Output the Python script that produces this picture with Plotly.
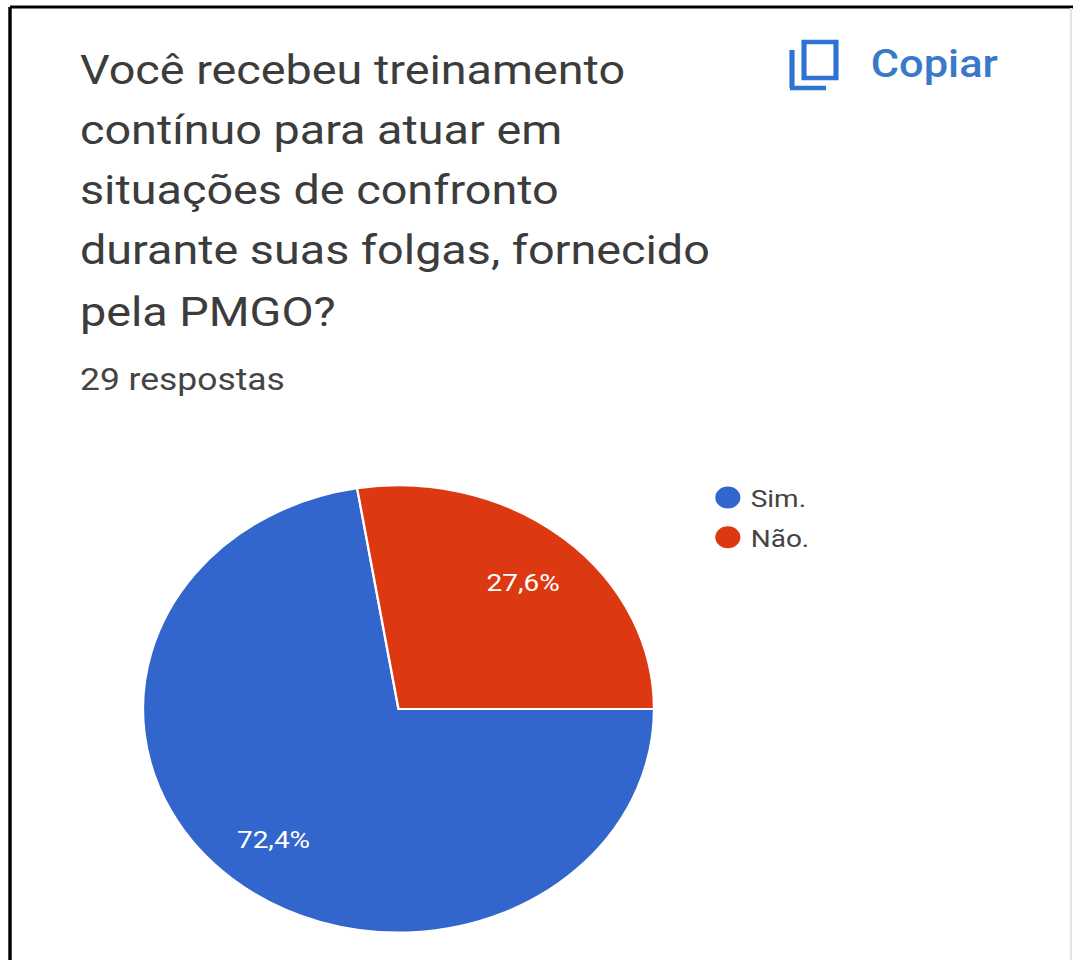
import plotly.graph_objects as go

W_PAGE, H_PAGE = 1073, 960
STRETCH = 1.1427
W_FIG = W_PAGE / STRETCH

categories = ["Sim.", "Não."]
responses = [21, 8]
colors = ["#3366CC", "#DC3912"]
title_lines = [
    "Você recebeu treinamento",
    "contínuo para atuar em",
    "situações de confronto",
    "durante suas folgas, fornecido",
    "pela PMGO?",
]
title_y = [70, 130, 190, 250, 312]
subtitle = "29 respostas"
copy_label = "Copiar"


def px(x):
    return x / W_PAGE


def py(y):
    return 1 - y / H_PAGE


fig = go.Figure(
    go.Pie(
        labels=categories,
        values=responses,
        sort=False,
        direction="clockwise",
        rotation=90,
        marker=dict(colors=colors, line=dict(color="white", width=2)),
        textinfo="percent",
        textposition="inside",
        insidetextorientation="horizontal",
        texttemplate="%{percent:.1%}",
        textfont=dict(family="Roboto", size=24.5, color="#ffffff"),
        domain=dict(x=[px(143), px(654)], y=[py(933), py(485)]),
        hoverinfo="label+percent",
    )
)

annotations = []
for line, y in zip(title_lines, title_y):
    annotations.append(dict(
        text=line, x=px(77.5), y=py(y), xref="paper", yref="paper",
        xanchor="left", yanchor="middle", showarrow=False,
        font=dict(family="Roboto", size=40.9, color="#3c3c3c"),
    ))
annotations.append(dict(
    text=subtitle, x=px(77.5), y=py(379), xref="paper", yref="paper",
    xanchor="left", yanchor="middle", showarrow=False,
    font=dict(family="Roboto", size=31, color="#444444"),
))
annotations.append(dict(
    text=copy_label, x=px(869), y=py(64), xref="paper", yref="paper",
    xanchor="left", yanchor="middle", showarrow=False,
    font=dict(family="Roboto", size=38, color="#3a78c9", weight=500),
))

ICON = "#2f73d2"


def line_shape(x0, y0, x1, y1, color, width):
    return dict(type="line", xref="paper", yref="paper",
                x0=px(x0), y0=py(y0), x1=px(x1), y1=py(y1),
                line=dict(color=color, width=width))


shapes = [
    line_shape(10, 7, 1073, 7, "#000000", 3),
    line_shape(10, 7, 10, 960, "#000000", 3),
    line_shape(1071, 8, 1071, 960, "#e4e4e4", 2),
    dict(type="rect", xref="paper", yref="paper",
         x0=px(804), x1=px(836), y0=py(42), y1=py(78),
         line=dict(color=ICON, width=4.5)),
    line_shape(792, 50, 792, 88, ICON, 4.5),
    line_shape(790, 88, 826, 88, ICON, 4.5),
]

fig.update_layout(
    width=W_FIG,
    height=H_PAGE,
    margin=dict(l=0, r=0, t=0, b=0),
    paper_bgcolor="#ffffff",
    separators=",.",
    autosize=False,
    annotations=annotations,
    shapes=shapes,
    showlegend=True,
    legend=dict(
        x=px(705), y=py(475), xanchor="left", yanchor="top",
        font=dict(family="Roboto", size=24.5, color="#444444"),
        bgcolor="rgba(0,0,0,0)",
    ),
)

post = """
var gd = document.getElementById('{plot_id}');
document.body.style.margin = '0';
document.documentElement.style.overflow = 'hidden';
gd.style.transformOrigin = '0 0';
gd.style.transform = 'scaleX(%s)';
gd.querySelectorAll('.legendpoints path').forEach(function (p) {
  p.setAttribute('d', 'M-12,0A12,12 0 1,1 12,0A12,12 0 1,1 -12,0Z');
});
var items = gd.querySelectorAll('.legend .traces');
if (items.length > 1) {
  var t = items[1].getAttribute('transform') || '';
  items[1].setAttribute('transform', t + ' translate(0,5)');
}
var labels = gd.querySelectorAll('.pielayer g.slicetext');
var offsets = [[-37, 45], [27, -30]];
labels.forEach(function (g, i) {
  g.setAttribute('transform', 'translate(' + offsets[i][0] + ',' + offsets[i][1] + ')');
});
""" % STRETCH

fig.write_html("out.html", post_script=post, config=dict(displayModeBar=False, responsive=False))
